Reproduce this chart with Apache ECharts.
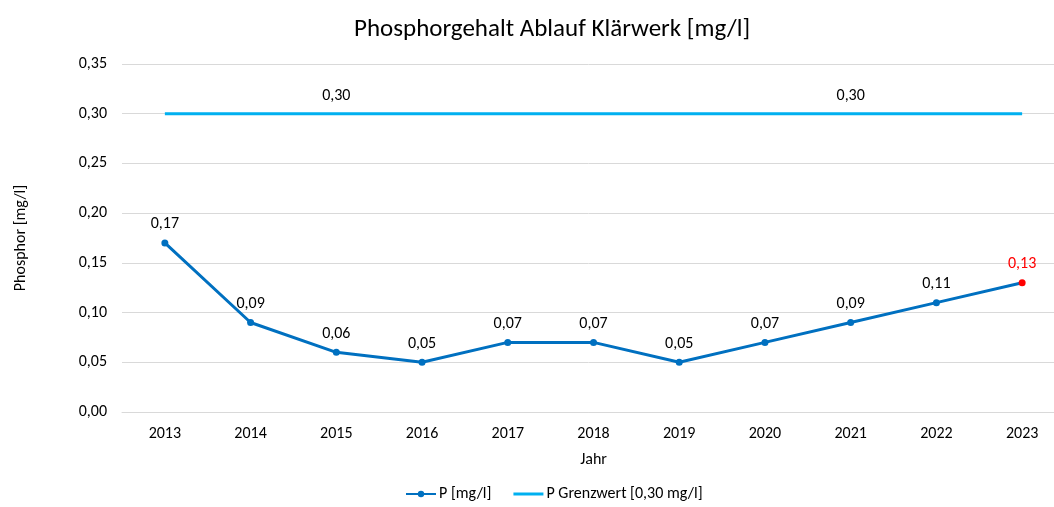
<!DOCTYPE html>
<html>
<head>
<meta charset="utf-8">
<script src="https://cdn.jsdelivr.net/npm/echarts@6/dist/echarts.min.js"></script>
<style>
  html, body { margin: 0; padding: 0; background: #fff; }
  #main { width: 1054px; height: 507px; }
</style>
</head>
<body>
<div id="main"></div>
<script>
// Daten
var jahre = ['2013', '2014', '2015', '2016', '2017', '2018', '2019', '2020', '2021', '2022', '2023'];
var pWerte = [0.17, 0.09, 0.06, 0.05, 0.07, 0.07, 0.05, 0.07, 0.09, 0.11, 0.13];
var grenzwert = [0.30, 0.30, 0.30, 0.30, 0.30, 0.30, 0.30, 0.30, 0.30, 0.30, 0.30];
var grenzLabelIdx = [2, 8];

function komma(v) {
    return v.toFixed(2).replace('.', ',');
}

// letzter Punkt rot
var pDaten = pWerte.map(function(v, i) {
    if (i === pWerte.length - 1) {
        return { value: v, itemStyle: { color: '#FF0000' }, label: { color: '#FF0000' } };
    }
    return v;
});

// Grenzwert: nur zwei Beschriftungen
var grenzDaten = grenzwert.map(function(v, i) {
    return { value: v, label: { show: grenzLabelIdx.indexOf(i) >= 0 } };
});

var myChart = echarts.init(document.getElementById('main'));
var font = 'Carlito, Lato, sans-serif';

var option = {
    animation: false,
    textStyle: { fontFamily: font },
    title: {
        text: 'Phosphorgehalt Ablauf Klärwerk [mg/l]',
        left: 349,
        top: 12,
        textStyle: { fontSize: 25, fontWeight: 'normal', color: '#000', fontFamily: font }
    },
    grid: { left: 122, top: 64, width: 943, height: 348, containLabel: false, outerBoundsMode: 'none' },
    legend: {
        bottom: 0,
        left: 400,
        itemWidth: 30,
        itemHeight: 8,
        itemGap: 22,
        textStyle: { fontSize: 16, color: '#000', fontFamily: font, padding: [0, 0, 0, -2] },
        data: [
            { name: 'P [mg/l]' },
            { name: 'P Grenzwert [0,30 mg/l]', icon: 'path://M0,0 L30,0 L30,3 L0,3 Z' }
        ]
    },
    xAxis: {
        type: 'category',
        data: jahre,
        boundaryGap: true,
        name: 'Jahr',
        nameLocation: 'middle',
        nameGap: 40,
        nameTextStyle: { fontSize: 16, color: '#000', fontFamily: font },
        axisLine: { show: true, lineStyle: { color: '#D9D9D9' } },
        axisTick: { show: false },
        axisLabel: { fontSize: 16, color: '#000', margin: 14, fontFamily: font }
    },
    yAxis: {
        type: 'value',
        min: 0,
        max: 0.35,
        interval: 0.05,
        name: 'Phosphor [mg/l]',
        nameLocation: 'middle',
        nameGap: 93,
        nameTextStyle: { fontSize: 16, color: '#000', fontFamily: font },
        axisLine: { show: false },
        axisTick: { show: false },
        splitLine: { lineStyle: { color: '#D9D9D9' } },
        axisLabel: { fontSize: 16, color: '#000', margin: 15, fontFamily: font, formatter: komma }
    },
    series: [
        {
            name: 'P [mg/l]',
            type: 'line',
            data: pDaten,
            color: '#0070C0',
            symbol: 'circle',
            symbolSize: 7,
            lineStyle: { width: 3, color: '#0070C0' },
            itemStyle: { color: '#0070C0' },
            label: {
                show: true,
                position: 'top',
                distance: 7,
                fontSize: 16,
                color: '#000',
                fontFamily: font,
                formatter: function(p) { return komma(p.value); }
            },
            z: 3
        },
        {
            name: 'P Grenzwert [0,30 mg/l]',
            type: 'line',
            data: grenzDaten,
            color: '#00B0F0',
            symbol: 'circle',
            symbolSize: 0.1,
            showSymbol: true,
            lineStyle: { width: 3, color: '#00B0F0' },
            itemStyle: { color: '#00B0F0' },
            label: {
                show: false,
                position: 'top',
                distance: 10,
                fontSize: 16,
                color: '#000',
                fontFamily: font,
                formatter: function(p) { return komma(p.value); }
            },
            z: 2
        }
    ]
};

myChart.setOption(option);
</script>
</body>
</html>
